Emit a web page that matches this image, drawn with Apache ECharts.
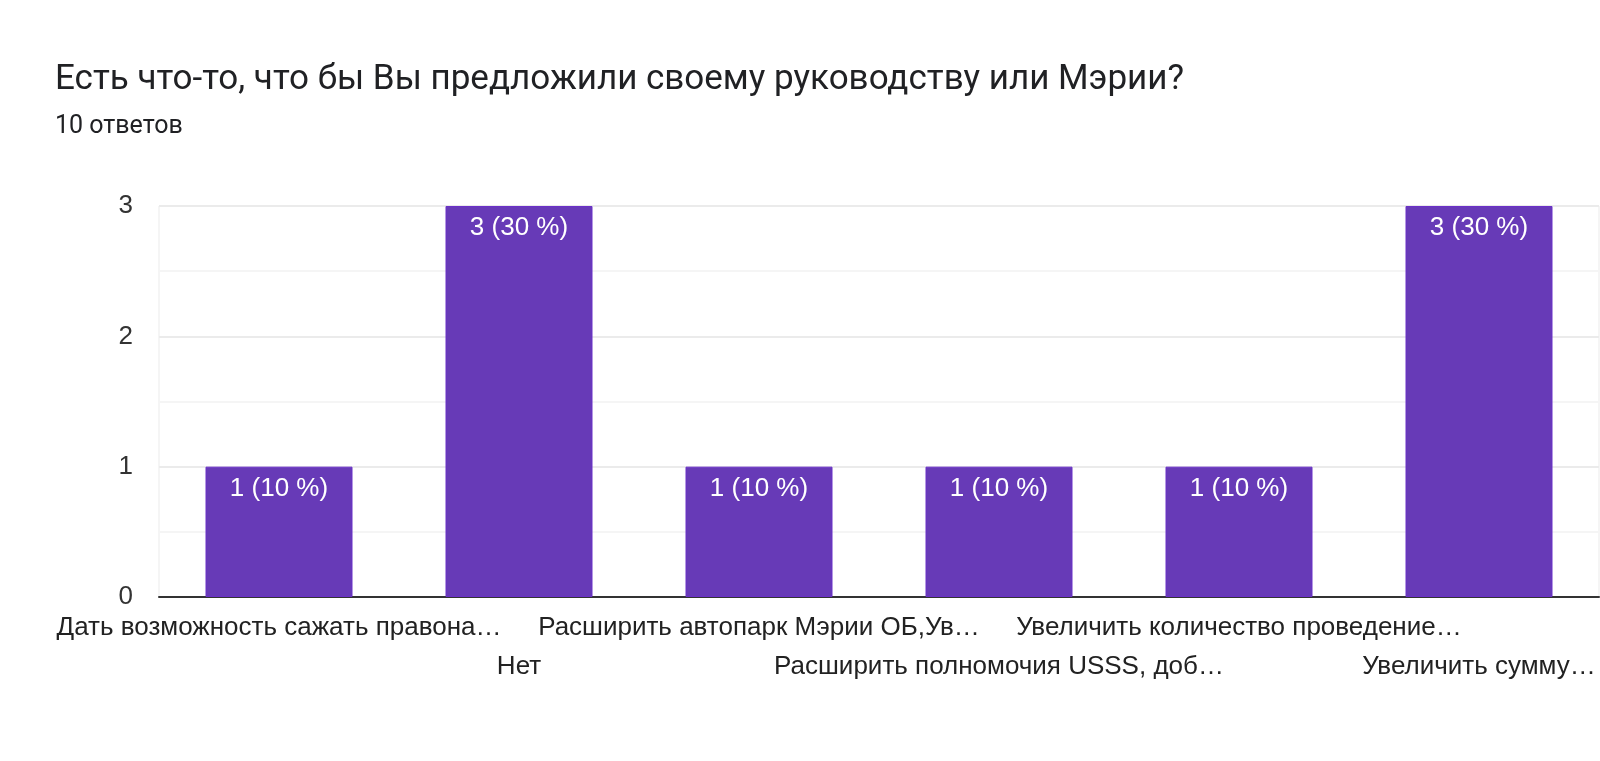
<!DOCTYPE html>
<html>
<head>
<meta charset="utf-8">
<script src="https://cdn.jsdelivr.net/npm/echarts@6/dist/echarts.min.js"></script>
<style>
  html, body { margin: 0; padding: 0; background: #fff; }
  #chart { width: 1600px; height: 761px; }
</style>
</head>
<body>
<div id="chart"></div>
<script>
const titleText = 'Есть что-то, что бы Вы предложили своему руководству или Мэрии?'
const subtitleText = '10 ответов'
const totalAnswers = 10

const categories = [
  'Дать возможность сажать правона…',
  'Нет',
  'Расширить автопарк Мэрии ОБ,Ув…',
  'Расширить полномочия USSS, доб…',
  'Увеличить количество проведение…',
  'Увеличить сумму…'
]
const counts = [1, 3, 1, 1, 1, 3]

const yTicks = [0, 1, 2, 3]

const chart = echarts.init(document.getElementById('chart'))

chart.setOption({
  animation: false,
  title: {
    text: titleText,
    subtext: subtitleText,
    left: 50,
    top: 58,
    itemGap: 16,
    textStyle: {
      fontFamily: 'Roboto',
      fontSize: 35,
      fontWeight: 'normal',
      color: '#202124'
    },
    subtextStyle: {
      fontFamily: 'Roboto',
      fontSize: 25,
      color: '#202124'
    }
  },
  grid: {
    left: 159,
    right: 1,
    top: 206,
    bottom: 164,
    show: true,
    borderColor: '#ebebeb',
    borderWidth: 1
  },
  xAxis: {
    type: 'category',
    data: categories,
    axisTick: { show: false },
    axisLine: {
      lineStyle: { color: '#333', width: 2 }
    },
    axisLabel: {
      interval: 0,
      hideOverlap: false,
      margin: 11,
      fontFamily: 'Arial, Liberation Sans',
      fontSize: 26,
      lineHeight: 39,
      color: '#222',
      formatter: (v, i) => (i % 2 ? '\n' + v : v)
    }
  },
  yAxis: {
    type: 'value',
    min: 0,
    max: 3,
    interval: 0.5,
    axisLine: { show: false },
    axisTick: { show: false },
    axisLabel: {
      margin: 26,
      fontFamily: 'Arial, Liberation Sans',
      fontSize: 26,
      color: '#333',
      formatter: v => (yTicks.indexOf(v) >= 0 ? String(v) : '')
    },
    splitLine: {
      lineStyle: {
        color: ['#ebebeb', '#f5f5f5'],
        width: 2
      }
    }
  },
  series: [
    {
      type: 'bar',
      data: counts,
      barWidth: 147,
      itemStyle: {
        color: '#673ab7',
        borderColor: '#6a30c8',
        borderWidth: 1
      },
      label: {
        show: true,
        position: 'insideTop',
        distance: 9,
        fontFamily: 'Arial, Liberation Sans',
        fontSize: 26,
        color: '#fff',
        formatter: p => p.value + ' (' + Math.round(p.value / totalAnswers * 100) + ' %)'
      }
    }
  ]
})
</script>
</body>
</html>
